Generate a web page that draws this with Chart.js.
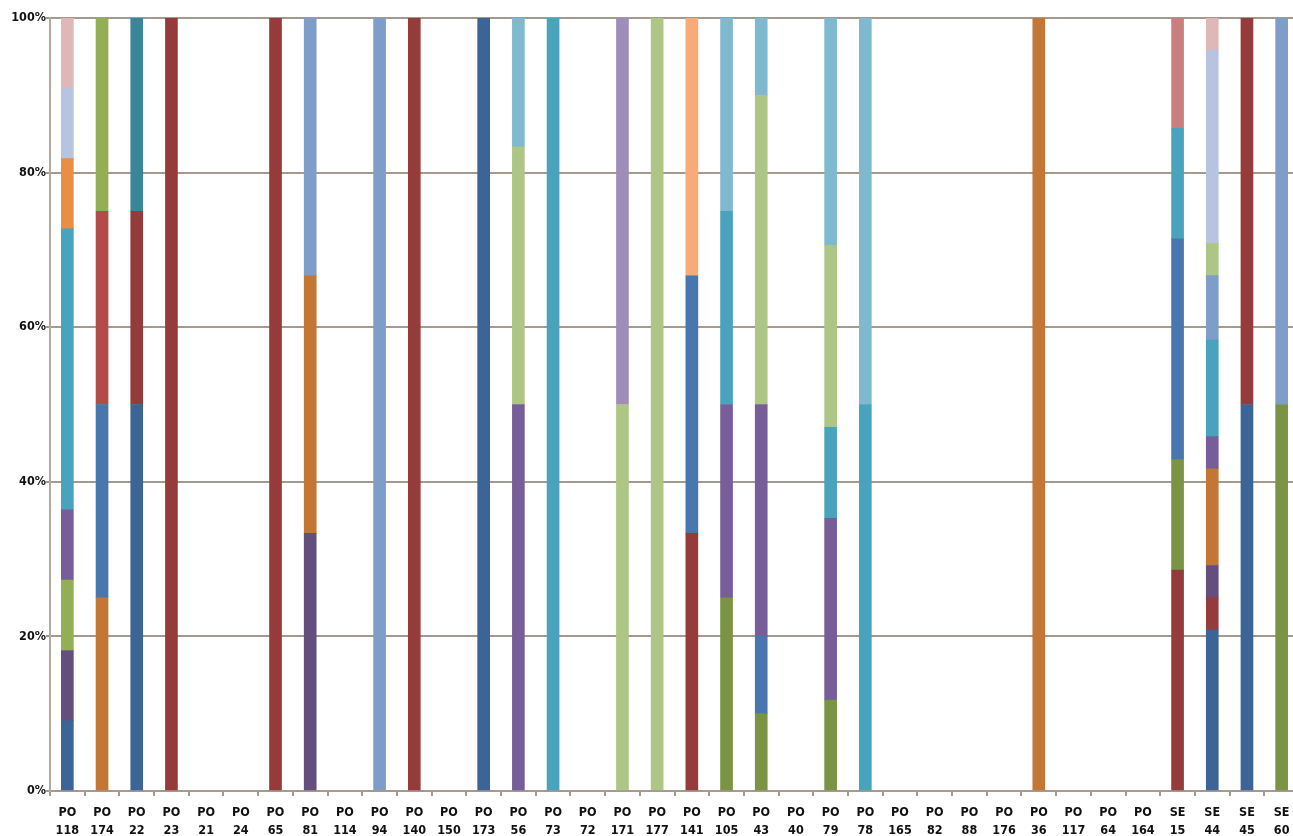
<!DOCTYPE html>
<html>
<head>
<meta charset="utf-8">
<script src="https://cdn.jsdelivr.net/npm/chart.js@4.4.1/dist/chart.umd.min.js"></script>
<style>
  html, body { margin: 0; padding: 0; background: #ffffff; overflow: hidden; }
  #wrap { position: absolute; left: 0; top: 0; width: 1299px; height: 836px; }
</style>
</head>
<body>
<div id="wrap"><canvas id="c"></canvas></div>
<script>
// Categories (two-line labels)
const categories = [
  ['PO','118'],['PO','174'],['PO','22'],['PO','23'],['PO','21'],['PO','24'],['PO','65'],['PO','81'],
  ['PO','114'],['PO','94'],['PO','140'],['PO','150'],['PO','173'],['PO','56'],['PO','73'],['PO','72'],
  ['PO','171'],['PO','177'],['PO','141'],['PO','105'],['PO','43'],['PO','40'],['PO','79'],['PO','78'],
  ['PO','165'],['PO','82'],['PO','88'],['PO','176'],['PO','36'],['PO','117'],['PO','64'],['PO','164'],
  ['SE','15'],['SE','44'],['SE','45'],['SE','60']
];

// Y tick labels (percent)
const yTicks = [0, 20, 40, 60, 80, 100];

// Series values (percent share of each bar)
const s1  = [9.09, 0,   50,  0,   0, 0,  0,   0,    0,  0,   0,   0,  100, 0,    0,   0, 0,  0,   0,    0,  0,  0, 0,    0,  0,  0, 0, 0,  0,  0,  0, 0,  0,    20.83, 50, 0];
const s2  = [0,    0,   25,  100, 0, 0,  100, 0,    0,  0,   100, 0,  0,   0,    0,   0, 0,  0,   33.33,0,  0,  0, 0,    0,  0,  0, 0, 0,  0,  0,  0, 0,  28.57,4.17,  50, 0];
const s3  = [0,    0,   0,   0,   0, 0,  0,   0,    0,  0,   0,   0,  0,   0,    0,   0, 0,  0,   0,    25, 10, 0, 11.76,0,  0,  0, 0, 0,  0,  0,  0, 0,  14.29,0,     0,  50];
const s4  = [9.09, 0,   0,   0,   0, 0,  0,   33.33,0,  0,   0,   0,  0,   0,    0,   0, 0,  0,   0,    0,  0,  0, 0,    0,  0,  0, 0, 0,  0,  0,  0, 0,  0,    4.17,  0,  0];
const s5  = [0,    0,   25,  0,   0, 0,  0,   0,    0,  0,   0,   0,  0,   0,    0,   0, 0,  0,   0,    0,  0,  0, 0,    0,  0,  0, 0, 0,  0,  0,  0, 0,  0,    0,     0,  0];
const s6  = [0,    25,  0,   0,   0, 0,  0,   33.33,0,  0,   0,   0,  0,   0,    0,   0, 0,  0,   0,    0,  0,  0, 0,    0,  0,  0, 0, 0,  100,0,  0, 0,  0,    12.5,  0,  0];
const s7  = [0,    25,  0,   0,   0, 0,  0,   0,    0,  0,   0,   0,  0,   0,    0,   0, 0,  0,   33.33,0,  10, 0, 0,    0,  0,  0, 0, 0,  0,  0,  0, 0,  28.57,0,     0,  0];
const s8  = [0,    25,  0,   0,   0, 0,  0,   0,    0,  0,   0,   0,  0,   0,    0,   0, 0,  0,   0,    0,  0,  0, 0,    0,  0,  0, 0, 0,  0,  0,  0, 0,  0,    0,     0,  0];
const s9  = [9.09, 25,  0,   0,   0, 0,  0,   0,    0,  0,   0,   0,  0,   0,    0,   0, 0,  0,   0,    0,  0,  0, 0,    0,  0,  0, 0, 0,  0,  0,  0, 0,  0,    0,     0,  0];
const s10 = [9.09, 0,   0,   0,   0, 0,  0,   0,    0,  0,   0,   0,  0,   50,   0,   0, 0,  0,   0,    25, 30, 0, 23.53,0,  0,  0, 0, 0,  0,  0,  0, 0,  0,    4.17,  0,  0];
const s11 = [36.36,0,   0,   0,   0, 0,  0,   0,    0,  0,   0,   0,  0,   0,    100, 0, 0,  0,   0,    25, 0,  0, 11.76,50, 0,  0, 0, 0,  0,  0,  0, 0,  14.29,12.5,  0,  0];
const s12 = [9.09, 0,   0,   0,   0, 0,  0,   0,    0,  0,   0,   0,  0,   0,    0,   0, 0,  0,   0,    0,  0,  0, 0,    0,  0,  0, 0, 0,  0,  0,  0, 0,  0,    0,     0,  0];
const s13 = [0,    0,   0,   0,   0, 0,  0,   33.33,0,  100, 0,   0,  0,   0,    0,   0, 0,  0,   0,    0,  0,  0, 0,    0,  0,  0, 0, 0,  0,  0,  0, 0,  0,    8.33,  0,  50];
const s14 = [0,    0,   0,   0,   0, 0,  0,   0,    0,  0,   0,   0,  0,   0,    0,   0, 0,  0,   0,    0,  0,  0, 0,    0,  0,  0, 0, 0,  0,  0,  0, 0,  14.29,0,     0,  0];
const s15 = [0,    0,   0,   0,   0, 0,  0,   0,    0,  0,   0,   0,  0,   33.33,0,   0, 50, 100, 0,    0,  40, 0, 23.53,0,  0,  0, 0, 0,  0,  0,  0, 0,  0,    4.17,  0,  0];
const s16 = [0,    0,   0,   0,   0, 0,  0,   0,    0,  0,   0,   0,  0,   0,    0,   0, 50, 0,   0,    0,  0,  0, 0,    0,  0,  0, 0, 0,  0,  0,  0, 0,  0,    0,     0,  0];
const s17 = [0,    0,   0,   0,   0, 0,  0,   0,    0,  0,   0,   0,  0,   16.67,0,   0, 0,  0,   0,    25, 10, 0, 29.41,50, 0,  0, 0, 0,  0,  0,  0, 0,  0,    0,     0,  0];
const s18 = [0,    0,   0,   0,   0, 0,  0,   0,    0,  0,   0,   0,  0,   0,    0,   0, 0,  0,   33.34,0,  0,  0, 0,    0,  0,  0, 0, 0,  0,  0,  0, 0,  0,    0,     0,  0];
const s19 = [9.09, 0,   0,   0,   0, 0,  0,   0,    0,  0,   0,   0,  0,   0,    0,   0, 0,  0,   0,    0,  0,  0, 0,    0,  0,  0, 0, 0,  0,  0,  0, 0,  0,    25,    0,  0];
const s20 = [9.09, 0,   0,   0,   0, 0,  0,   0,    0,  0,   0,   0,  0,   0,    0,   0, 0,  0,   0,    0,  0,  0, 0,    0,  0,  0, 0, 0,  0,  0,  0, 0,  0,    4.17,  0,  0];

const seriesValues = [s1,s2,s3,s4,s5,s6,s7,s8,s9,s10,s11,s12,s13,s14,s15,s16,s17,s18,s19,s20];
const seriesColors = [
  '#3C6496','#963B3B','#7A9443','#634E7E','#3A8599','#C47634',
  '#4877B0','#B34B49','#93AF54','#775E99','#49A3BC','#E98E44',
  '#7F9DC9','#CA7E7D','#ADC585','#9E8DB8','#7FB9CF','#F8AA78',
  '#B6C4DF','#E0B7B7'
];

const gridColor = '#a3998d';
const fontSpec = { family: "'DejaVu Sans Condensed', 'DejaVu Sans', sans-serif", size: 12.5, weight: 'bold', lineHeight: 1.45 };

const datasets = seriesValues.map((vals, i) => ({
  label: 'Series ' + (i + 1),
  data: vals.map(v => (v === 0 ? null : v)),
  backgroundColor: seriesColors[i],
  borderWidth: 0,
  barThickness: 12,
  stack: 'a'
}));

new Chart(document.getElementById('c'), {
  type: 'bar',
  data: { labels: categories, datasets },
  options: {
    responsive: true,
    maintainAspectRatio: false,
    animation: false,
    layout: { padding: { top: 18, right: 0, left: 0, bottom: 0 } },
    plugins: { legend: { display: false }, tooltip: { enabled: false } },
    scales: {
      x: {
        stacked: true,
        offset: true,
        grid: { offset: true, drawOnChartArea: false, drawTicks: true, tickLength: 5, color: gridColor, lineWidth: 2 },
        border: { display: true, color: gridColor, width: 2 },
        ticks: { font: fontSpec, color: '#111111', maxRotation: 0, minRotation: 0, autoSkip: false, padding: 8 },
        afterFit: (s) => { s.height = 45; }
      },
      y: {
        stacked: true,
        min: 0,
        max: 100,
        afterBuildTicks: (s) => { s.ticks = yTicks.map(v => ({ value: v })); },
        grid: { color: gridColor, lineWidth: 2, tickLength: 4, drawTicks: true },
        border: { display: true, color: '#b3a99e', width: 2 },
        ticks: { font: fontSpec, color: '#111111', padding: 0, callback: (v) => v + '%' },
        afterFit: (s) => { s.width = 50; }
      }
    }
  }
});
</script>
</body>
</html>
